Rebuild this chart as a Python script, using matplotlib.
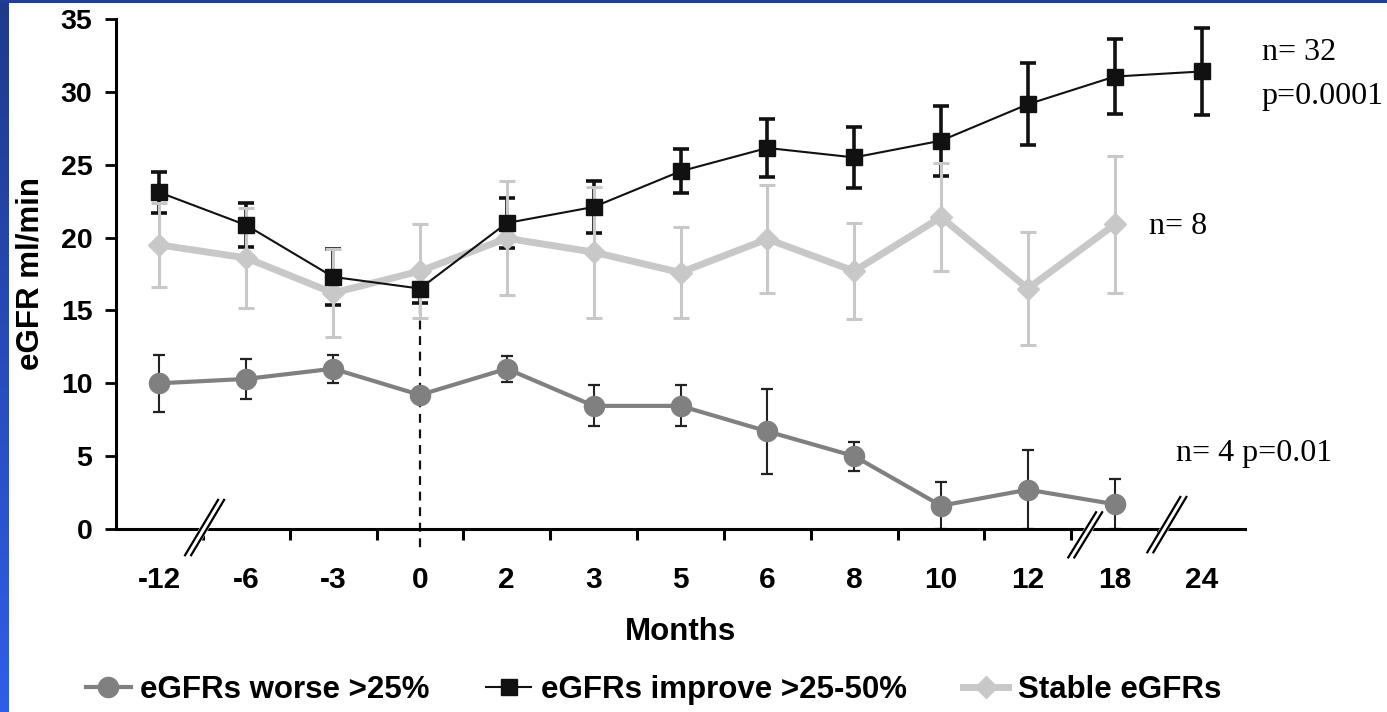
import numpy as np
import matplotlib
matplotlib.use('Agg')
import matplotlib.pyplot as plt

# data
months = ['-12', '-6', '-3', '0', '2', '3', '5', '6', '8', '10', '12', '18', '24']
worse = [10.0, 10.3, 11.0, 9.2, 11.0, 8.45, 8.45, 6.7, 5.0, 1.6, 2.7, 1.7, np.nan]
worse_err = [1.95, 1.35, 0.95, 0.5, 0.9, 1.4, 1.4, 2.9, 1.0, 1.6, 2.7, 1.7, np.nan]
improve = [23.1, 20.85, 17.3, 16.5, 21.0, 22.1, 24.55, 26.15, 25.5, 26.65, 29.15, 31.05, 31.4]
improve_err = [1.4, 1.5, 1.9, 1.0, 1.7, 1.8, 1.5, 2.0, 2.1, 2.4, 2.8, 2.6, 3.0]
stable = [19.5, 18.6, 16.2, 17.7, 19.95, 19.0, 17.6, 19.9, 17.7, 21.4, 16.5, 20.9, np.nan]
stable_err = [2.9, 3.4, 3.0, 3.2, 3.9, 4.5, 3.1, 3.7, 3.3, 3.7, 3.9, 4.7, np.nan]

labels = ['eGFRs worse >25%', 'eGFRs improve >25-50%', 'Stable eGFRs']
notes = ['n= 32', 'p=0.0001', 'n= 8', 'n= 4 p=0.01']

c_worse = '#808080'
c_imp = '#111111'
c_stab = '#c8c8c8'
sans = 'Liberation Sans'
serif = 'Liberation Serif'

x = np.arange(len(months))

fig = plt.figure(figsize=(13.87, 7.12), dpi=100)
ax = fig.add_axes([116/1387, 1-529/712, (1245-116)/1387, (529-19)/712])

# error bars first, lines on top
ax.errorbar(x, improve, yerr=improve_err, fmt='none', ecolor=c_imp, elinewidth=2.6,
            capsize=5.5, capthick=2.6, zorder=2)
ax.errorbar(x, stable, yerr=stable_err, fmt='none', ecolor=c_stab, elinewidth=2.2,
            capsize=5.5, capthick=2.2, zorder=3)
ax.errorbar(x, worse, yerr=worse_err, fmt='none', ecolor='#222222', elinewidth=1.5,
            capsize=4.5, capthick=1.6, zorder=2)

h_stab, = ax.plot(x, stable, color=c_stab, lw=5, marker='D', ms=11, mfc=c_stab, mec=c_stab, zorder=4)
h_worse, = ax.plot(x, worse, color=c_worse, lw=3, marker='o', ms=14.5, mfc=c_worse, mec=c_worse, zorder=4)
h_imp, = ax.plot(x, improve, color=c_imp, lw=1.5, marker='s', ms=11, mfc=c_imp, mec=c_imp, zorder=5)

# dashed line at month 0
ax.plot([3, 3], [15.4, -1.65], color='#111111', lw=1.6, ls=(0, (4, 3)), clip_on=False, zorder=1)

ax.set_xlim(-0.5, 12.5)
ax.set_ylim(0, 35)
ax.set_yticks(np.arange(0, 36, 5))
ax.set_xticks(x)
ax.set_xticklabels(months)
ax.set_xticks(np.arange(0.5, 12.5, 1), minor=True)
for s in ['top', 'right']:
    ax.spines[s].set_visible(False)
for s in ['left', 'bottom']:
    ax.spines[s].set_linewidth(2.2)
ax.tick_params(axis='y', direction='out', length=8, width=2, pad=9)
ax.tick_params(axis='x', which='major', length=0, pad=27)
ax.tick_params(axis='x', which='minor', direction='out', length=8, width=2.2)
for t in ax.get_yticklabels():
    t.set_fontfamily(sans); t.set_fontweight('bold'); t.set_fontsize(20.5)
for t in ax.get_xticklabels():
    t.set_fontfamily(sans); t.set_fontweight('bold'); t.set_fontsize(21.5)

ax.set_ylabel('eGFR ml/min', fontfamily=sans, fontweight='bold', fontsize=22.5)
ax.yaxis.set_label_coords(-0.076, 0.5)
ax.yaxis.label.set_va('center')
ax.set_xlabel('Months', fontfamily=sans, fontweight='bold', fontsize=22.5)
ax.xaxis.set_label_coords(0.5, -0.202)
ax.xaxis.label.set_va('center')

# axis breaks
def axis_break(xc, yc, dx=0.19, dy=1.9, sep=0.07):
    ax.plot([xc - dx, xc + dx], [yc - dy, yc + dy], color='white', lw=6,
            clip_on=False, zorder=6, solid_capstyle='butt')
    for o in (-sep / 2, sep / 2):
        ax.plot([xc - dx + o, xc + dx + o], [yc - dy, yc + dy], color='black', lw=1.6,
                clip_on=False, zorder=7)

axis_break(0.52, 0.1)
axis_break(10.66, -0.4, dx=0.16, dy=1.55)
axis_break(11.6, 0.3)

ax.text(12.69, 32.67, notes[0], fontfamily=serif, fontsize=23, va='center', ha='left', clip_on=False)
ax.text(12.69, 29.65, notes[1], fontfamily=serif, fontsize=23, va='center', ha='left', clip_on=False)
ax.text(11.39, 20.73, notes[2], fontfamily=serif, fontsize=23, va='center', ha='left')
ax.text(11.70, 5.2, notes[3], fontfamily=serif, fontsize=23, va='center', ha='left')

leg = fig.legend([h_worse, h_imp, h_stab], labels, loc='center', bbox_to_anchor=(0.471, 0.031),
                 ncol=3, frameon=False, handlelength=1.45, handletextpad=0.3, columnspacing=1.8,
                 prop={'family': sans, 'weight': 'bold', 'size': 22.5})

# blue frame on the left and top
grad = np.linspace(0, 1, 256).reshape(-1, 1)
bax = fig.add_axes([0, 0, 9/1387, 1])
cmap = matplotlib.colors.LinearSegmentedColormap.from_list('b', ['#1f3a8c', '#2f5ee8'])
bax.imshow(grad, aspect='auto', cmap=cmap, extent=[0, 1, 0, 1])
bax.axis('off')
tax = fig.add_axes([0, 1-3/712, 1, 3/712])
tax.set_facecolor('#213d96')
tax.set_xticks([]); tax.set_yticks([])
for s in tax.spines.values():
    s.set_visible(False)

fig.savefig('out.png', dpi=100)
